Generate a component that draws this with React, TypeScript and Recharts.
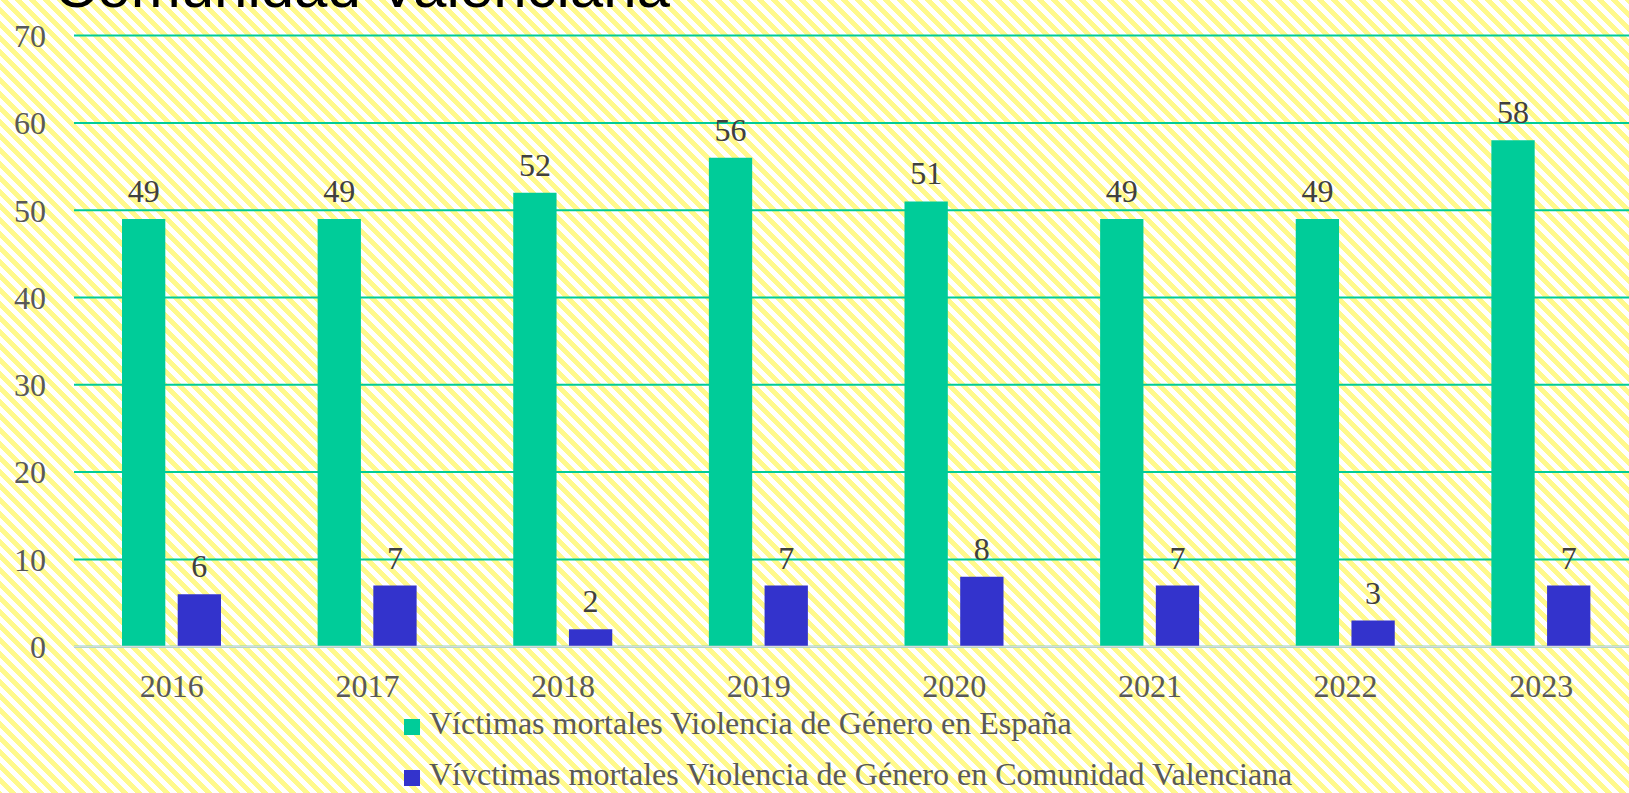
import React from 'react';
import { BarChart, Bar, XAxis, YAxis, CartesianGrid, LabelList, Legend } from 'recharts';

const years = ['2016', '2017', '2018', '2019', '2020', '2021', '2022', '2023'];
const espana = [49, 49, 52, 56, 51, 49, 49, 58];
const valencia = [6, 7, 2, 7, 8, 7, 3, 7];
const yTicks = [0, 10, 20, 30, 40, 50, 60, 70];
const seriesNames = [
  'Víctimas mortales Violencia de Género en España',
  'Vívctimas mortales Violencia de Género en Comunidad Valenciana',
];
const seriesColors = ['#00CC99', '#3333CC'];
const title = 'Comunidad Valenciana';

const data = years.map((y, i) => ({ year: y, espana: espana[i], valencia: valencia[i] }));

const serif = '"Liberation Serif", "Times New Roman", serif';

const tile =
  "<svg xmlns='http://www.w3.org/2000/svg' width='14' height='14' shape-rendering='crispEdges'>" +
  "<rect width='14' height='14' fill='#ffffff'/>" +
  "<polygon points='0,0 7,0 14,7 14,14' fill='#fff98c'/>" +
  "<polygon points='0,7 0,14 7,14' fill='#fff98c'/>" +
  '</svg>';
const stripeBg = `url("data:image/svg+xml;utf8,${encodeURIComponent(tile)}")`;

const LegendContent = (props: any) => {
  const payload = props.payload || [];
  return (
    <svg width={1000} height={93} style={{ display: 'block', overflow: 'visible' }}>
      {payload.map((p: any, i: number) => (
        <g key={i}>
          <rect x={0} y={19 + i * 51} width={16} height={16} fill={p.color} />
          <text x={25} y={34 + i * 51} fill="#595959" fontSize={32} fontFamily={serif}>
            {p.value}
          </text>
        </g>
      ))}
    </svg>
  );
};

export default function App() {
  return (
    <div
      style={{
        position: 'fixed',
        left: 0,
        top: 0,
        width: 1629,
        height: 793,
        overflow: 'hidden',
        backgroundColor: '#ffffff',
        backgroundImage: stripeBg,
        backgroundRepeat: 'repeat',
        backgroundSize: '14px 14px',
      }}
    >
      <svg width={1629} height={60} style={{ position: 'absolute', left: 0, top: 0 }}>
        <text x={54} y={7} fontSize={60} fontFamily='"Liberation Sans", Arial, sans-serif' fill="#000000">
          {title}
        </text>
      </svg>
      <div style={{ position: 'absolute', left: 0, top: 0 }}>
        <BarChart
          width={1639}
          height={793}
          data={data}
          margin={{ top: 35.6, right: 0, bottom: 116.3, left: 0 }}
          barSize={43.3}
          barGap={12.4}
        >
          <CartesianGrid horizontal vertical={false} stroke="#00CC99" strokeWidth={2} />
          <XAxis
            dataKey="year"
            height={30}
            tickLine={false}
            tickSize={0}
            tickMargin={28}
            axisLine={{ stroke: '#d9d9d9', strokeWidth: 2 }}
            tick={{ fill: '#595959', fontSize: 32, fontFamily: serif }}
            interval={0}
          />
          <YAxis
            width={74}
            domain={[0, 70]}
            ticks={yTicks}
            axisLine={false}
            tickLine={false}
            tickSize={0}
            tickMargin={28}
            tick={{ fill: '#595959', fontSize: 32, fontFamily: serif }}
          />
          <Legend
            layout="vertical"
            align="center"
            verticalAlign="middle"
            wrapperStyle={{ left: 404, top: 700, width: 1000, height: 93 }}
            content={<LegendContent />}
          />
          <Bar dataKey="espana" name={seriesNames[0]} fill={seriesColors[0]} isAnimationActive={false}>
            <LabelList dataKey="espana" position="top" offset={17} fill="#404040" fontSize={32} fontFamily={serif} />
          </Bar>
          <Bar dataKey="valencia" name={seriesNames[1]} fill={seriesColors[1]} isAnimationActive={false}>
            <LabelList dataKey="valencia" position="top" offset={17} fill="#404040" fontSize={32} fontFamily={serif} />
          </Bar>
        </BarChart>
      </div>
    </div>
  );
}
